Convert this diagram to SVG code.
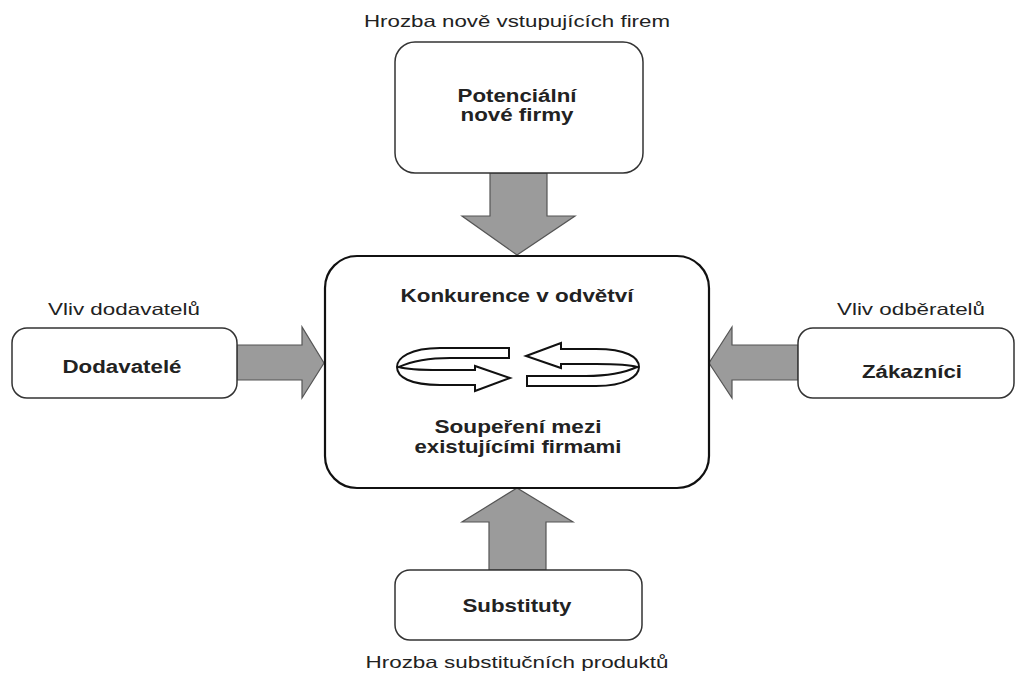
<svg xmlns="http://www.w3.org/2000/svg" width="1017" height="673" viewBox="0 0 1017 673">
<style>
.box{fill:#fff;stroke:#333;stroke-width:1.5}
.main{fill:#fff;stroke:#111;stroke-width:2.2}
.arr{fill:#9b9b9b;stroke:#555;stroke-width:1.2;stroke-linejoin:miter}
.rot{fill:#fff;stroke:#111;stroke-width:2;stroke-linejoin:miter}
.lbl{font-family:"Liberation Sans",Arial,sans-serif;font-size:18px;font-weight:bold;fill:#222;text-anchor:middle}
.cap{font-family:"Liberation Sans",Arial,sans-serif;font-size:16.5px;fill:#222;text-anchor:middle}
</style>
<rect width="1017" height="673" fill="#fff"/>
<g id="connectors">
<polygon class="arr" points="490,173 547,173 547,216 575,216 517,255 462,216 490,216"/>
<polygon class="arr" points="489,570 546,570 546,522 573,522 517,488 462,522 489,522"/>
<polygon class="arr" points="237,345 302,345 302,327 324,363 302,398 302,380 237,380"/>
<polygon class="arr" points="798,345 732,345 732,327 709,363 732,398 732,380 798,380"/>
</g>
<g id="node-top">
<text class="cap" x="517" y="27" textLength="306" lengthAdjust="spacingAndGlyphs">Hrozba nově vstupujících firem</text>
<rect class="box" x="395" y="42" width="248" height="131" rx="20"/>
<text class="lbl" x="517" y="102" textLength="119" lengthAdjust="spacingAndGlyphs">Potenciální</text>
<text class="lbl" x="517" y="121" textLength="113" lengthAdjust="spacingAndGlyphs">nové firmy</text>
</g>
<g id="node-center">
<rect class="main" x="325" y="256" width="384" height="232" rx="32"/>
<text class="lbl" x="517" y="302" textLength="233" lengthAdjust="spacingAndGlyphs">Konkurence v odvětví</text>
<g id="rotation">
<path class="rot" d="M509 348 L440 348 C410 348 397 358 397 367 C397 377 410 385 440 385 L475 385 L475 391 L510 378 L475 366 L475 370 L440 370 C420 370 405 369 399 367 C410 362 425 358 450 358 L509 358 Z"/>
<path class="rot" transform="rotate(180 518 367)" d="M509 348 L440 348 C410 348 397 358 397 367 C397 377 410 385 440 385 L475 385 L475 391 L510 378 L475 366 L475 370 L440 370 C420 370 405 369 399 367 C410 362 425 358 450 358 L509 358 Z"/>
</g>
<text class="lbl" x="518" y="433" textLength="167" lengthAdjust="spacingAndGlyphs">Soupeření mezi</text>
<text class="lbl" x="518" y="453" textLength="207" lengthAdjust="spacingAndGlyphs">existujícími firmami</text>
</g>
<g id="node-left">
<text class="cap" x="124" y="315" textLength="152" lengthAdjust="spacingAndGlyphs">Vliv dodavatelů</text>
<rect class="box" x="12" y="328" width="225" height="70" rx="15"/>
<text class="lbl" x="122" y="373" textLength="119" lengthAdjust="spacingAndGlyphs">Dodavatelé</text>
</g>
<g id="node-right">
<text class="cap" x="911" y="315" textLength="148" lengthAdjust="spacingAndGlyphs">Vliv odběratelů</text>
<rect class="box" x="798" y="328" width="216" height="70" rx="15"/>
<text class="lbl" x="912" y="378" textLength="100" lengthAdjust="spacingAndGlyphs">Zákazníci</text>
</g>
<g id="node-bottom">
<rect class="box" x="395" y="570" width="247" height="70" rx="15"/>
<text class="lbl" x="517" y="612" textLength="109" lengthAdjust="spacingAndGlyphs">Substituty</text>
<text class="cap" x="517" y="668" textLength="303" lengthAdjust="spacingAndGlyphs">Hrozba substitučních produktů</text>
</g>
</svg>
